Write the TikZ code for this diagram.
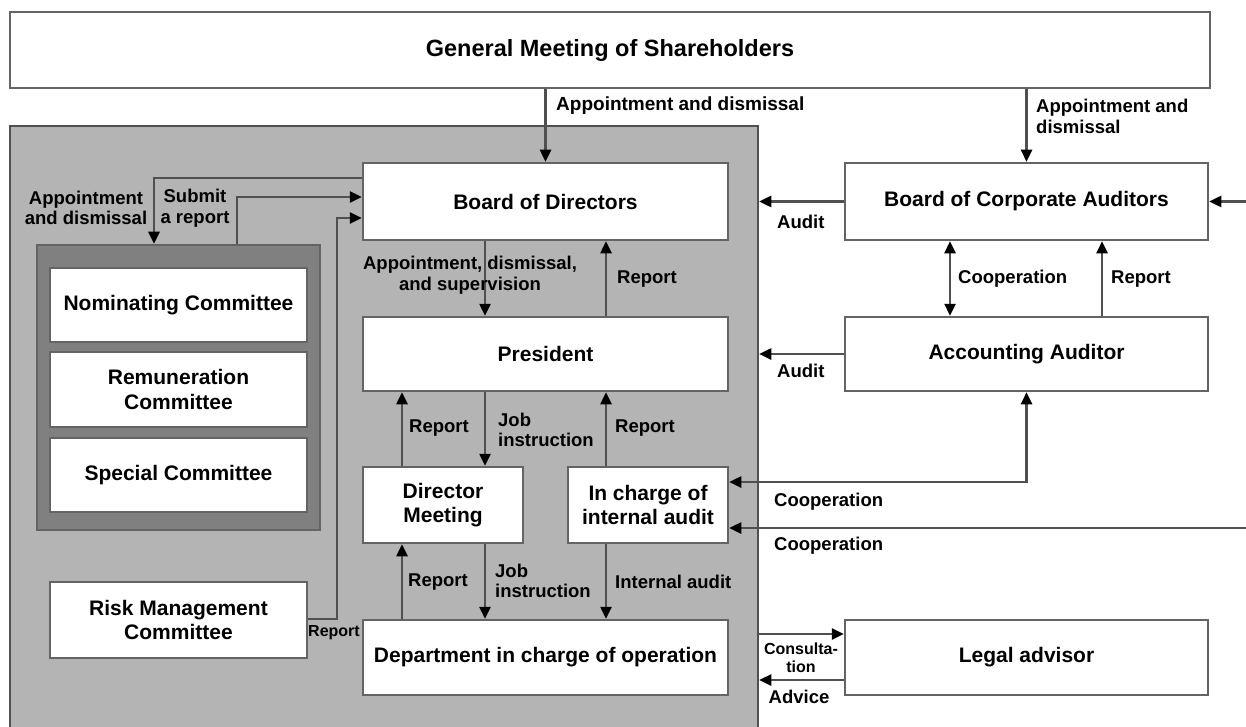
\documentclass[tikz,border=0pt]{standalone}
\usepackage{fontspec}
\setmainfont{Liberation Sans}
\usetikzlibrary{arrows.meta,calc}
\definecolor{regiongray}{HTML}{B4B4B4}
\definecolor{framegray}{HTML}{808080}
\definecolor{edgegray}{HTML}{646464}
\definecolor{linegray}{HTML}{505050}
\begin{document}
\begin{tikzpicture}[x=1pt,y=-1pt,
  box/.style={draw=edgegray, fill=white, line width=2.5pt, align=center, inner sep=0pt,
    font=\bfseries\fontsize{21}{24.5}\selectfont},
  lbl/.style={font=\bfseries\fontsize{18.5}{20.5}\selectfont, align=center, inner sep=0pt},
  slbl/.style={font=\bfseries\fontsize{16}{18.5}\selectfont, align=center, inner sep=0pt},
  conn/.style={draw=linegray, line width=2.5pt, -{Triangle[length=12pt,width=11pt,color=black]}},
  dconn/.style={draw=linegray, line width=2.5pt, {Triangle[length=12pt,width=11pt,color=black]}-{Triangle[length=12pt,width=11pt,color=black]}}]
\useasboundingbox (0,0) rectangle (1246,727);
\fill[white] (0,0) rectangle (1246,727);

% shaded company region
\node[draw=linegray, fill=regiongray, line width=2.5pt, minimum width=748pt, minimum height=614pt, inner sep=0pt] (region) at (384,433) {};

% top box
\node[box, minimum width=1200pt, minimum height=76pt, font=\bfseries\fontsize{23.5}{27}\selectfont] (gms) at (610,50) {General Meeting of Shareholders};

% committees frame
\node[draw=edgegray, fill=framegray, line width=2.5pt, minimum width=283pt, minimum height=285pt, inner sep=0pt] (frame) at (178.5,387.5) {};
\node[box, minimum width=257pt, minimum height=74pt] (nom) at (178.5,305) {Nominating Committee};
\node[box, minimum width=257pt, minimum height=75pt] (rem) at (178.5,389.5) {Remuneration\\Committee};
\node[box, minimum width=257pt, minimum height=74pt] (spc) at (178.5,475) {Special Committee};
\node[box, minimum width=257pt, minimum height=76pt] (risk) at (178.5,620) {Risk Management\\Committee};

% central column
\node[box, minimum width=365pt, minimum height=77pt] (board) at (545.5,201.5) {Board of Directors};
\node[box, minimum width=365pt, minimum height=74pt] (pres) at (545.5,354) {President};
\node[box, minimum width=160pt, minimum height=76pt] (dirm) at (443,505) {Director\\Meeting};
\node[box, minimum width=160pt, minimum height=76pt] (ica) at (648,505) {In charge of\\internal audit};
\node[box, minimum width=365pt, minimum height=75pt] (dept) at (545.5,657.5) {Department in charge of operation};

% right column
\node[box, minimum width=363pt, minimum height=77pt] (bca) at (1026.5,201.5) {Board of Corporate Auditors};
\node[box, minimum width=363pt, minimum height=74pt] (aa) at (1026.5,354) {Accounting Auditor};
\node[box, minimum width=363pt, minimum height=75pt] (legal) at (1026.5,657.5) {Legal advisor};

% helper coordinates
\coordinate (cx1) at (402,0);
\coordinate (cx2) at (485,0);
\coordinate (cx3) at (606,0);
\coordinate (cx4) at (950,0);
\coordinate (cx5) at (1102,0);
\coordinate (cx6) at (154,0);
\coordinate (cx7) at (237,0);
\coordinate (cx8) at (337,0);
\coordinate (redge) at (1246,0);
\coordinate (cy1) at (0,482);
\coordinate (cy2) at (0,528);
\coordinate (cy3) at (0,634);
\coordinate (cy4) at (0,680);
\coordinate (cy5) at (0,178);
\coordinate (cy6) at (0,197);
\coordinate (cy7) at (0,619);
\coordinate (cy8) at (0,218);

% connectors
\draw[conn] (gms.south -| board.north) -- (board.north);
\draw[conn] (gms.south -| bca.north) -- (bca.north);
\draw[conn] (board.south -| cx2) -- (pres.north -| cx2);
\draw[conn] (pres.north -| cx3) -- (board.south -| cx3);
\draw[conn] (dirm.north -| cx1) -- (pres.south -| cx1);
\draw[conn] (pres.south -| cx2) -- (dirm.north -| cx2);
\draw[conn] (ica.north -| cx3) -- (pres.south -| cx3);
\draw[conn] (dept.north -| cx1) -- (dirm.south -| cx1);
\draw[conn] (dirm.south -| cx2) -- (dept.north -| cx2);
\draw[conn] (ica.south -| cx3) -- (dept.north -| cx3);

\draw[conn] (bca.west) -- (bca.west -| region.east);
\draw[conn] (bca.east -| redge) -- (bca.east);
\draw[dconn] (bca.south -| cx4) -- (aa.north -| cx4);
\draw[conn] (aa.north -| cx5) -- (bca.south -| cx5);
\draw[conn] (aa.west) -- (aa.west -| region.east);
\draw[dconn] (ica.east |- cy1) -- (aa.south |- cy1) -- (aa.south);
\draw[conn] (redge |- cy2) -- (ica.east |- cy2);
\draw[conn] (region.east |- cy3) -- (legal.west |- cy3);
\draw[conn] (legal.west |- cy4) -- (region.east |- cy4);

\draw[conn] (board.west |- cy5) -- (cx6 |- cy5) -- (frame.north -| cx6);
\draw[conn] (frame.north -| cx7) -- (cx7 |- cy6) -- (board.west |- cy6);
\draw[conn] (risk.east |- cy7) -- (cx8 |- cy7) -- (cx8 |- cy8) -- (board.west |- cy8);

% labels
\node[lbl, anchor=west, font=\bfseries\fontsize{19}{21}\selectfont] (l1) at (556,106) {Appointment and dismissal};
\node[lbl, anchor=north west, align=left] (l2) at (1036,99) {Appointment and\\dismissal};
\node[lbl] (l3) at (86,208) {Appointment\\and dismissal};
\node[lbl] (l4) at (195,208) {Submit\\a report};
\node[lbl] (l5) at (470,275) {Appointment, dismissal,\\and supervision};
\node[lbl, anchor=west] (l6) at (617,279) {Report};
\node[lbl, anchor=west] (l7) at (777,222) {Audit};
\node[lbl, anchor=west] (l8) at (958,279) {Cooperation};
\node[lbl, anchor=west] (l9) at (1111,279) {Report};
\node[lbl, anchor=west] (l10) at (777,371) {Audit};
\node[lbl, anchor=west] (l11) at (409,428) {Report};
\node[lbl, anchor=west, align=left] (l12) at (498,430) {Job\\instruction};
\node[lbl, anchor=west] (l13) at (615,428) {Report};
\node[lbl, anchor=west] (l14) at (408,582) {Report};
\node[lbl, anchor=west, align=left] (l15) at (495,581) {Job\\instruction};
\node[lbl, anchor=west] (l16) at (615,582) {Internal audit};
\node[lbl, anchor=west] (l17) at (774,502) {Cooperation};
\node[lbl, anchor=west] (l18) at (774,546) {Cooperation};
\node[slbl] (l19) at (801,658) {Consulta-\\tion};
\node[lbl] (l20) at (799,697) {Advice};
\node[slbl] (l21) at (334,633) {Report};
\end{tikzpicture}
\end{document}
